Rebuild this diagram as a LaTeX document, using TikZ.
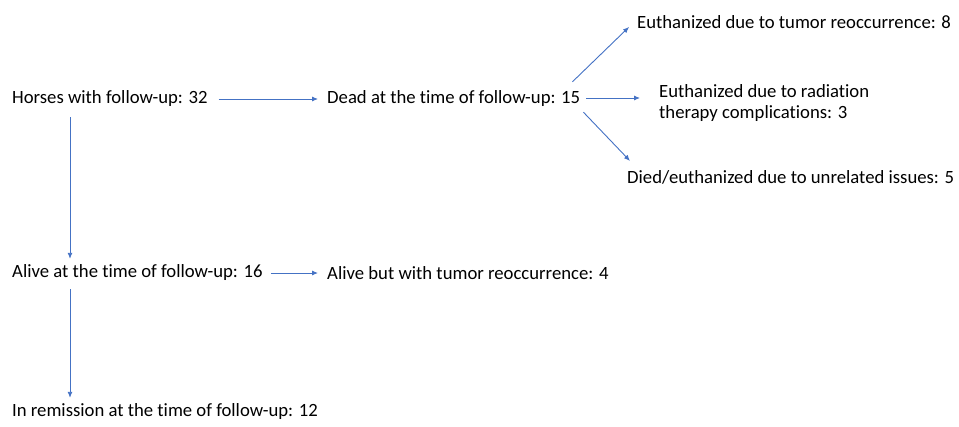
\documentclass[tikz,border=0pt]{standalone}
\usepackage{fontspec}
\setmainfont{Carlito}[Ligatures=NoCommon]
\usetikzlibrary{arrows.meta, positioning}
\definecolor{arrowblue}{HTML}{4472C4}
\tikzstyle{txt} = [anchor=west, inner sep=0pt, font=\fontsize{18.7}{21.5}\selectfont, align=left]
\tikzstyle{arrow} = [draw=arrowblue, line width=0.9pt, -{Latex[length=6pt, width=5pt]}]

\begin{document}
\begin{tikzpicture}[x=1pt, y=-1pt]
	\useasboundingbox (0,0) rectangle (959,426);
	
	% Nodes
	\node (horses) [txt] at (12,99) {Horses with follow-up: 32};
	\node (dead) [txt] at (327,99) {Dead at the time of follow-up: 15};
	\node (tumor) [txt] at (637,22) {Euthanized due to tumor reoccurrence: 8};
	\node (radiation) [txt] at (659,103) {Euthanized due to radiation\\therapy complications: 3};
	\node (unrelated) [txt] at (627,177) {Died/euthanized due to unrelated issues: 5};
	\node (alive) [txt] at (12,273) {Alive at the time of follow-up: 16};
	\node (aliveTumor) [txt] at (327,273) {Alive but with tumor reoccurrence: 4};
	\node (remission) [txt] at (12,412) {In remission at the time of follow-up: 12};
	
	% Arrows
	\draw [arrow, shorten <=11pt, shorten >=9pt] (horses) -- (dead);
	\draw [arrow] ([shift={(-8,-9)}]dead.north east) -- ([shift={(-8,5)}]tumor.west);
	\draw [arrow, shorten <=6pt, shorten >=19pt] ([yshift=1pt]dead.east) -- ([yshift=1pt]radiation.west |- dead.east);
	\draw [arrow] ([shift={(3,5)}]dead.south east) -- ([shift={(3,-9)}]unrelated.north west);
	\draw [arrow, shorten <=10pt, shorten >=6pt] ([xshift=58pt]horses.south west) -- ([xshift=58pt]alive.north west);
	\draw [arrow, shorten <=8pt, shorten >=9pt] (alive) -- (aliveTumor);
	\draw [arrow, shorten <=8pt, shorten >=6pt] ([xshift=58pt]alive.south west) -- ([xshift=58pt]remission.north west);
	
\end{tikzpicture}
\end{document}
